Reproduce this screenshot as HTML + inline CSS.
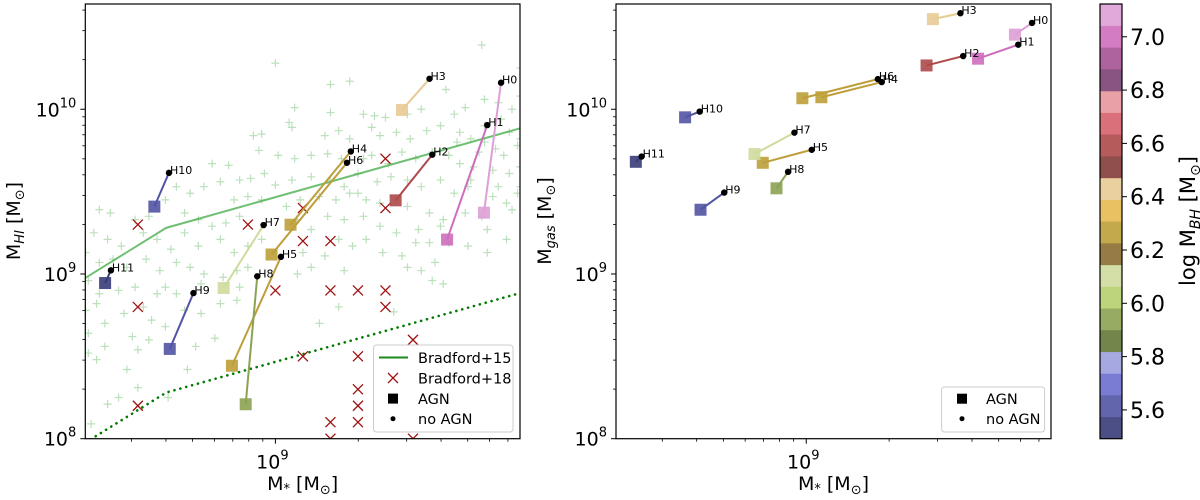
<!DOCTYPE html>
<html><head><meta charset="utf-8">
<style>
html,body{margin:0;padding:0;background:#fff;}
svg{display:block;font-family:"DejaVu Sans","Liberation Sans",sans-serif;}
</style></head>
<body>
<svg id="fig" width="1200" height="500" viewBox="0 0 1200 500" xmlns="http://www.w3.org/2000/svg">
<defs>
<clipPath id="clipL"><rect x="85.3" y="4" width="434.7" height="434.7"/></clipPath>
<clipPath id="clipR"><rect x="616" y="4" width="435" height="434.7"/></clipPath>
</defs>
</svg>
<script>
// ---- data (log10 values) ----
const haloNames = ["H0","H1","H2","H3","H4","H5","H6","H7","H8","H9","H10","H11"];
const logMBH = [7.08,6.98,6.58,6.42,6.25,6.25,6.25,6.08,5.92,5.60,5.60,5.50];
const mstarNoAGN = [9.82,9.77,9.57,9.56,9.274,9.02,9.26,8.957,8.934,8.702,8.613,8.402];
const mstarAGN = [9.758,9.624,9.437,9.46,9.055,8.842,8.986,8.812,8.892,8.616,8.56,8.381];
const mhiNoAGN = [10.161,9.904,9.724,10.185,9.744,9.104,9.675,9.297,8.986,8.884,9.614,9.022];
const mhiAGN = [9.372,9.209,9.447,9.996,9.299,8.443,9.118,8.915,8.209,8.545,9.409,8.945];
const mgasNoAGN = [10.524,10.392,10.323,10.583,10.165,9.754,10.183,9.858,9.620,9.494,9.986,9.713];
const mgasAGN = [10.453,10.307,10.266,10.547,10.073,9.675,10.067,9.728,9.520,9.390,9.951,9.681];
const brad15X = [8.309,8.603,9.889];
const brad15Y = [8.976,9.280,9.884];
const brad15LowY = [7.976,8.280,8.884];
const brad18X = [8.5,8.5,8.5,8.9,9.1,9.1,9.2,9.4,9.4,9.0,9.2,9.3,9.4,9.4,9.1,9.3,9.5,9.3,9.3,9.2,9.3,9.2,9.5];
const brad18Y = [9.3,8.8,8.2,9.3,9.4,9.2,9.2,9.7,9.4,8.9,8.9,8.9,8.9,8.8,8.5,8.5,8.6,8.3,8.2,8.1,8.1,8.0,8.0];
const sampleX = [9.75,9.00,9.89,9.20,9.27,9.62,9.07,9.32,9.20,9.36,9.40,9.48,9.53,9.65,9.69,9.76,9.81,9.86,9.89,8.92,8.95,9.05,9.06,9.18,9.23,9.27,9.35,9.38,9.44,9.49,9.55,9.60,9.67,9.71,9.76,9.85,9.88,9.83,9.89,8.94,9.01,9.07,9.13,9.19,9.32,9.35,9.46,9.51,9.63,9.67,9.72,9.79,9.85,8.77,8.83,8.87,8.91,8.96,9.00,9.06,9.13,9.20,9.25,9.30,9.37,9.42,9.48,9.53,9.60,9.65,9.70,9.81,9.88,8.64,8.69,8.74,8.80,8.85,8.90,8.95,9.04,9.09,9.16,9.22,9.27,9.33,9.38,9.48,9.56,9.61,9.69,9.75,9.86,8.36,8.40,8.49,8.54,8.60,8.67,8.72,8.77,8.82,8.87,9.08,9.13,9.19,9.25,9.32,9.38,9.44,9.52,9.56,9.60,9.77,9.84,8.34,8.39,8.44,8.52,8.57,8.62,8.67,8.72,8.80,8.85,8.90,8.95,9.10,9.18,9.23,9.28,9.33,9.39,9.46,9.51,9.63,9.70,9.77,8.31,8.36,8.41,8.46,8.53,8.58,8.64,8.69,8.74,8.81,8.86,8.90,9.08,9.13,9.25,9.48,9.58,9.61,9.57,8.32,8.36,8.43,8.49,8.57,8.60,8.64,8.73,8.87,9.53,8.31,8.35,8.38,8.45,8.52,8.55,8.67,8.73,8.80,8.86,9.23,9.43,9.16,8.32,8.38,8.48,8.54,8.50,8.78,8.71,8.60,8.32,8.35,8.46,8.50,8.68,8.61,8.43,8.39,8.33,9.66,9.74,9.80,9.89,9.71,9.79,9.84,9.89,9.76,9.82,9.57,9.41,9.24,9.30];
const sampleY = [10.39,10.28,10.25,10.15,10.17,10.12,10.01,9.97,9.98,9.96,9.95,9.97,10.00,9.97,10.01,10.06,10.04,10.00,10.08,9.84,9.85,9.92,9.89,9.84,9.87,9.82,9.89,9.84,9.86,9.82,9.87,9.90,9.86,9.82,9.80,9.86,9.78,9.72,9.65,9.75,9.72,9.70,9.72,9.73,9.70,9.72,9.74,9.70,9.72,9.67,9.65,9.63,9.61,9.67,9.66,9.57,9.58,9.61,9.54,9.57,9.59,9.57,9.53,9.61,9.56,9.59,9.57,9.53,9.57,9.49,9.53,9.53,9.49,9.53,9.49,9.53,9.56,9.45,9.47,9.45,9.41,9.45,9.47,9.45,9.49,9.45,9.43,9.41,9.37,9.33,9.37,9.35,9.39,9.39,9.37,9.33,9.35,9.45,9.37,9.33,9.29,9.31,9.35,9.33,9.27,9.35,9.33,9.35,9.29,9.25,9.27,9.19,9.29,9.27,9.21,9.25,9.21,9.17,9.25,9.21,9.15,9.25,9.17,9.21,9.13,9.17,9.21,9.13,9.11,9.21,9.17,9.21,9.13,9.11,9.19,9.19,9.17,9.13,9.13,9.07,9.09,9.04,9.09,9.02,9.07,9.04,9.00,8.98,9.02,9.04,9.00,9.04,9.02,9.04,9.07,8.94,8.96,8.96,8.88,8.90,8.92,8.88,8.92,8.88,8.94,8.92,9.02,8.78,8.82,8.70,8.76,8.80,8.72,8.78,8.76,8.82,8.84,8.80,8.77,8.70,8.64,8.56,8.62,8.60,8.54,8.61,8.56,8.68,8.52,8.48,8.42,8.31,8.42,8.25,8.25,8.21,8.09,9.80,9.74,9.76,9.82,9.57,9.47,9.43,9.53,9.90,9.94,9.74,9.67,9.70,9.49];
const cbarColors = ["#393b79","#5254a3","#6b6ecf","#9c9ede","#637939","#8ca252","#b5cf6b","#cedb9c","#8c6d31","#bd9e39","#e7ba52","#e7cb94","#843c39","#ad494a","#d6616b","#e7969c","#7b4173","#a55194","#ce6dbd","#de9ed6"];
const cbarTicks = [5.6,5.8,6.0,6.2,6.4,6.6,6.8,7.0];
const cbarMin = 5.492, cbarMax = 7.123;

// ---- helpers ----
const NS = "http://www.w3.org/2000/svg";
const fig = document.getElementById('fig');
function mk(tag, attrs, parent){
  const e = document.createElementNS(NS, tag);
  for (const k in attrs) e.setAttribute(k, attrs[k]);
  (parent||fig).appendChild(e);
  return e;
}
function bandColor(v){
  let i = Math.floor((v-cbarMin)/(cbarMax-cbarMin)*cbarColors.length);
  i = Math.max(0, Math.min(cbarColors.length-1, i));
  return cbarColors[i];
}
const xMinLog = 8.309, xMaxLog = 9.889, yMinLog = 8.0, yMaxLog = 10.639;
function makeAxis(x0, x1, y0, y1){
  return {
    x: v => x0 + (v - xMinLog)/(xMaxLog - xMinLog)*(x1-x0),
    y: v => y1 - (v - yMinLog)/(yMaxLog - yMinLog)*(y1-y0),
    x0, x1, y0, y1
  };
}
const L = makeAxis(85.3, 520, 4, 438.7);
const R = makeAxis(616, 1051, 4, 438.7);

function drawFrame(ax, prefix){
  const g = mk('g', {});
  
  
  for (let d = 8; d <= 10; d++){
    for (let m = 1; m <= 9; m++){
      const lv = d + Math.log10(m);
      if (lv > yMaxLog) continue;
      const yy = ax.y(lv);
      const len = m === 1 ? 5 : 3;
      const t = mk('line', {x1: ax.x0 - len, x2: ax.x0, y1: yy, y2: yy, stroke: '#000', 'stroke-width': m===1?1:0.8}, g);
      
      
      if (m === 1){
        const tx = mk('text', {x: ax.x0 - 9, y: yy + 7, 'font-size': 19, 'text-anchor': 'end', fill: '#000'}, g);
        
        
        tx.innerHTML = '10<tspan dy="-9" font-size="13">' + d + '</tspan>';
      }
    }
  }
  for (let d = 8; d <= 9; d++){
    for (let m = 1; m <= 9; m++){
      const lv = d + Math.log10(m);
      if (lv < xMinLog || lv > xMaxLog) continue;
      const xx = ax.x(lv);
      const len = m === 1 ? 5 : 3;
      const t = mk('line', {x1: xx, x2: xx, y1: ax.y1, y2: ax.y1 + len, stroke: '#000', 'stroke-width': m===1?1:0.8}, g);
      
      
      if (m === 1){
        const tx = mk('text', {x: xx - 3, y: ax.y1 + 30, 'font-size': 19, 'text-anchor': 'middle', fill: '#000'}, g);
        
        
        tx.innerHTML = '10<tspan dy="-9" font-size="13">' + d + '</tspan>';
      }
    }
  }
  const xl = mk('text', {x: (ax.x0+ax.x1)/2, y: 490, 'font-size': 19, 'text-anchor': 'middle', fill: '#000'}, g);
  
  
  xl.innerHTML = 'M<tspan font-size="13" dy="3">*</tspan><tspan dy="-3"> [M</tspan><tspan font-size="13" dy="4">⊙</tspan><tspan dy="-4">]</tspan>';
}
function drawBox(ax, prefix){
  const r = mk('rect', {x: ax.x0, y: ax.y0, width: ax.x1-ax.x0, height: ax.y1-ax.y0, fill: 'none', stroke: '#000', 'stroke-width': 1.2});
  
  
}

// ---- left panel ----
drawFrame(L, 'left');
const gL = mk('g', {'clip-path': 'url(#clipL)'});


for (let i = 0; i < sampleX.length; i++){
  const cx = L.x(sampleX[i]), cy = L.y(sampleY[i]);
  const p = mk('path', {d: `M${cx-4} ${cy}H${cx+4}M${cx} ${cy-4}V${cy+4}`, stroke: '#2ca02c', 'stroke-opacity': 0.32, 'stroke-width': 1.2, fill: 'none'}, gL);
  
  
}
const solid = mk('polyline', {points: brad15X.map((v,i)=>L.x(v)+','+L.y(brad15Y[i])).join(' '), fill: 'none', stroke: '#4caf50', 'stroke-opacity': 0.8, 'stroke-width': 2}, gL);


const dotted = mk('polyline', {points: brad15X.map((v,i)=>L.x(v)+','+L.y(brad15LowY[i])).join(' '), fill: 'none', stroke: '#007a00', 'stroke-width': 2.6, 'stroke-dasharray': '0.1 6', 'stroke-linecap': 'round'}, gL);


for (let i = 0; i < brad18X.length; i++){
  const cx = L.x(brad18X[i]), cy = L.y(brad18Y[i]);
  const p = mk('path', {d: `M${cx-5} ${cy-5}L${cx+5} ${cy+5}M${cx-5} ${cy+5}L${cx+5} ${cy-5}`, stroke: '#a01010', 'stroke-width': 1.3, fill: 'none'}, gL);
  
  
}
function drawHalos(ax, g, yNo, yAgn, prefix){
  for (let i = 0; i < haloNames.length; i++){
    const c = bandColor(logMBH[i]);
    const xa = ax.x(mstarAGN[i]), ya = ax.y(yAgn[i]);
    const xn = ax.x(mstarNoAGN[i]), yn = ax.y(yNo[i]);
    const ln = mk('line', {x1: xa, y1: ya, x2: xn, y2: yn, stroke: c, 'stroke-width': 2}, g);
    
    
    const sq = mk('rect', {x: xa-6, y: ya-6, width: 12, height: 12, fill: c, 'fill-opacity': 0.9}, g);
    
    
    const dt = mk('circle', {cx: xn, cy: yn, r: 3.2, fill: '#000'}, g);
    
    
    const lb = mk('text', {x: xn + 1, y: yn + 1, 'font-size': 11, fill: '#000'}, g);
    
    
    lb.textContent = haloNames[i];
  }
}
drawHalos(L, gL, mhiNoAGN, mhiAGN, 'left');
drawBox(L, 'left');
const ylL = mk('text', {x: 0, y: 0, 'font-size': 19, 'text-anchor': 'middle', fill: '#000', transform: 'translate(20,221) rotate(-90)'});


ylL.innerHTML = 'M<tspan font-size="13" dy="4" font-style="italic">HI</tspan><tspan dy="-4"> [M</tspan><tspan font-size="13" dy="4">⊙</tspan><tspan dy="-4">]</tspan>';

const lg = mk('g', {});


mk('rect', {x: 373.5, y: 345, width: 139.5, height: 87, rx: 3, fill: '#fff', 'fill-opacity': 0.85, stroke: '#ccc'}, lg);
const legRows = [357.5, 378, 398.6, 418.7];
const legText = ['Bradford+15','Bradford+18','AGN','no AGN'];
mk('line', {x1: 379, x2: 408, y1: legRows[0], y2: legRows[0], stroke: '#1a8a1a', 'stroke-width': 2}, lg);
mk('path', {d: `M388 ${legRows[1]-5}l10 10M388 ${legRows[1]+5}l10 -10`, stroke: '#a01010', 'stroke-width': 1.3}, lg);
mk('rect', {x: 388, y: legRows[2]-5, width: 10, height: 10, fill: '#000'}, lg);
mk('circle', {cx: 393, cy: legRows[3], r: 2.5, fill: '#000'}, lg);
for (let i = 0; i < 4; i++){
  const t = mk('text', {x: 418, y: legRows[i] + 5.5, 'font-size': 14.5, fill: '#000'}, lg);
  
  
  t.textContent = legText[i];
}

// ---- right panel ----
drawFrame(R, 'right');
const gR = mk('g', {'clip-path': 'url(#clipR)'});


drawHalos(R, gR, mgasNoAGN, mgasAGN, 'right');
drawBox(R, 'right');
const ylR = mk('text', {x: 0, y: 0, 'font-size': 19, 'text-anchor': 'middle', fill: '#000', transform: 'translate(551,221) rotate(-90)'});


ylR.innerHTML = 'M<tspan font-size="13" dy="4" font-style="italic">gas</tspan><tspan dy="-4"> [M</tspan><tspan font-size="13" dy="4">⊙</tspan><tspan dy="-4">]</tspan>';
const rg = mk('g', {});


mk('rect', {x: 941.6, y: 387, width: 103, height: 45, rx: 3, fill: '#fff', stroke: '#ccc'}, rg);
mk('rect', {x: 957, y: 393.7, width: 10, height: 10, fill: '#000'}, rg);
mk('circle', {cx: 962, cy: 418.7, r: 2.5, fill: '#000'}, rg);
['AGN','no AGN'].forEach((s,i)=>{
  const t = mk('text', {x: 986, y: [398.7,418.7][i] + 5.5, 'font-size': 14.5, fill: '#000'}, rg);
  
  
  t.textContent = s;
});

// ---- colorbar ----
const cb = mk('g', {});


const cbX = 1100, cbW = 22, cbTop = 4, cbBot = 438.7;
const cbY = v => cbBot - (v - cbarMin)/(cbarMax - cbarMin)*(cbBot - cbTop);
const bandH = (cbBot - cbTop)/cbarColors.length;
cbarColors.forEach((c,i)=>{
  const r = mk('rect', {x: cbX, y: cbBot - (i+1)*bandH, width: cbW, height: bandH + 0.3, fill: c, 'fill-opacity': 0.9}, cb);
  
  
});
mk('rect', {x: cbX, y: cbTop, width: cbW, height: cbBot - cbTop, fill: 'none', stroke: '#000', 'stroke-width': 1.2}, cb);
cbarTicks.forEach(v=>{
  const yy = cbY(v);
  mk('line', {x1: cbX + cbW, x2: cbX + cbW + 5, y1: yy, y2: yy, stroke: '#000'}, cb);
  const t = mk('text', {x: cbX + cbW + 8, y: yy + 8, 'font-size': 22, fill: '#000'}, cb);
  
  
  t.textContent = v.toFixed(1);
});
const cbl = mk('text', {x: 0, y: 0, 'font-size': 21, 'text-anchor': 'middle', fill: '#000', transform: 'translate(1195,221) rotate(-90)'}, cb);


cbl.innerHTML = 'log M<tspan font-size="14" dy="5" font-style="italic">BH</tspan><tspan dy="-5"> [M</tspan><tspan font-size="14" dy="5">⊙</tspan><tspan dy="-5">]</tspan>';
</script>
</body></html>
